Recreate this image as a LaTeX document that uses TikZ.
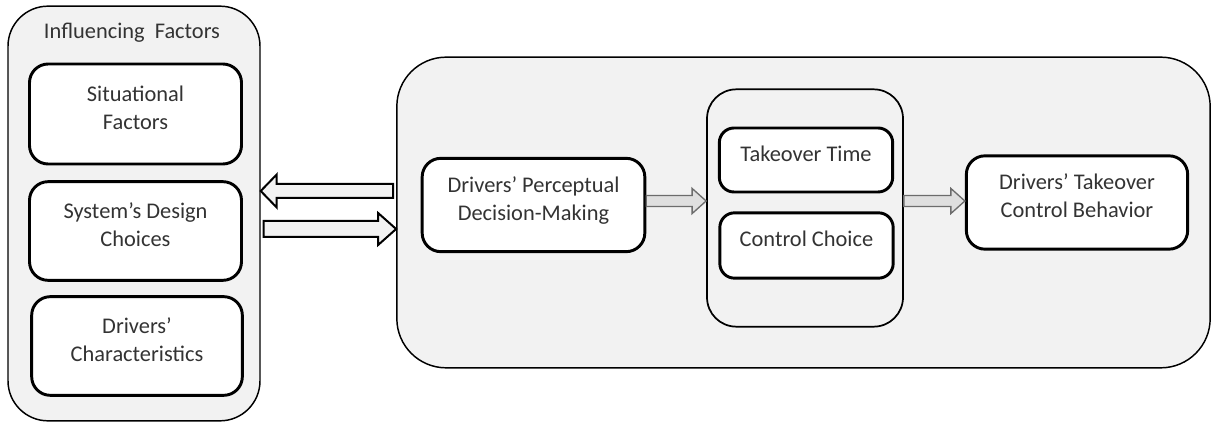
\documentclass[tikz,border=0pt]{standalone}
\usepackage{fontspec}
\setmainfont{Carlito}
\usetikzlibrary{calc}

% horizontal block arrow: style, tail, tip, shaft half-width, head half-width, signed head length
\newcommand\fatarrow[6]{%
  \draw[#1] let \p1=#2, \p2=#3 in
    (\x1,\y1+#4) -- (\x2-#6,\y1+#4) -- (\x2-#6,\y1+#5) -- (\x2,\y1)
    -- (\x2-#6,\y1-#5) -- (\x2-#6,\y1-#4) -- (\x1,\y1-#4) -- cycle;}

\begin{document}
\begin{tikzpicture}[x=0.75pt,y=-0.75pt,
  every node/.style={font=\fontsize{16.8}{21}\selectfont, text=black!80, align=center},
  group/.style={draw=black, line width=1.1pt, fill=gray!10, rounded corners=#1},
  group/.default=30pt,
  item/.style={draw=black, line width=2.2pt, fill=white, rounded corners=14pt, inner sep=0pt, text depth=10pt},
  bigarrow/.style={draw=black, line width=1.5pt, fill=gray!10},
  smallarrow/.style={draw=gray!85!black, line width=1pt, fill=gray!25}]
\useasboundingbox (0,0) rectangle (1212,423);

% left panel: influencing factors
\node[group=30pt, minimum width=189pt, minimum height=311pt] (L) at (134,213.5) {};
\node (title) at (132,33) {Influencing\ \ Factors};
\node[item, minimum width=159pt, minimum height=75pt] (s1) at (135.5,114) {Situational\\Factors};
\node[item, minimum width=159pt, minimum height=74pt] (s2) at (135.5,231) {System’s Design\\Choices};
\node[item, minimum width=158pt, minimum height=74pt] (s3) at (137,346) {Drivers’\\Characteristics};

% right panel: takeover process
\node[group=37pt, minimum width=610pt, minimum height=233pt] (R) at (803.5,212.5) {};
\node[item, minimum width=167pt, minimum height=70pt] (pd) at (533.5,205) {Drivers’ Perceptual\\Decision-Making};
\node[group=22pt, line width=1.3pt, minimum width=147pt, minimum height=178pt] (M) at (805,208) {};
\node[item, rounded corners=11pt, minimum width=130pt, minimum height=48pt] (tt) at (806,160) {Takeover Time};
\node[item, rounded corners=11pt, minimum width=130pt, minimum height=49pt] (cc) at (806.5,245.5) {Control Choice};
\node[item, minimum width=166pt, minimum height=70pt] (dt) at (1077,202.5) {Drivers’ Takeover\\Control Behavior};

% exchange between the panels
\coordinate (a1t) at ($(R.west |- 0,191)+(-3,0)$);
\coordinate (a1h) at (L.east |- 0,191);
\coordinate (a2t) at ($(L.east |- 0,229)+(3,0)$);
\coordinate (a2h) at (R.west |- 0,229);
\fatarrow{bigarrow}{(a1t)}{(a1h)}{5.25pt}{12.4pt}{-12pt}
\fatarrow{bigarrow}{(a2t)}{(a2h)}{6pt}{12pt}{13.5pt}

% flow inside the process panel
\fatarrow{smallarrow}{(pd.east |- 0,201)}{(M.west |- 0,201)}{4.1pt}{9.4pt}{10.5pt}
\fatarrow{smallarrow}{(M.east |- 0,201)}{(dt.west |- 0,201)}{4.1pt}{9.4pt}{10.5pt}
\end{tikzpicture}
\end{document}
